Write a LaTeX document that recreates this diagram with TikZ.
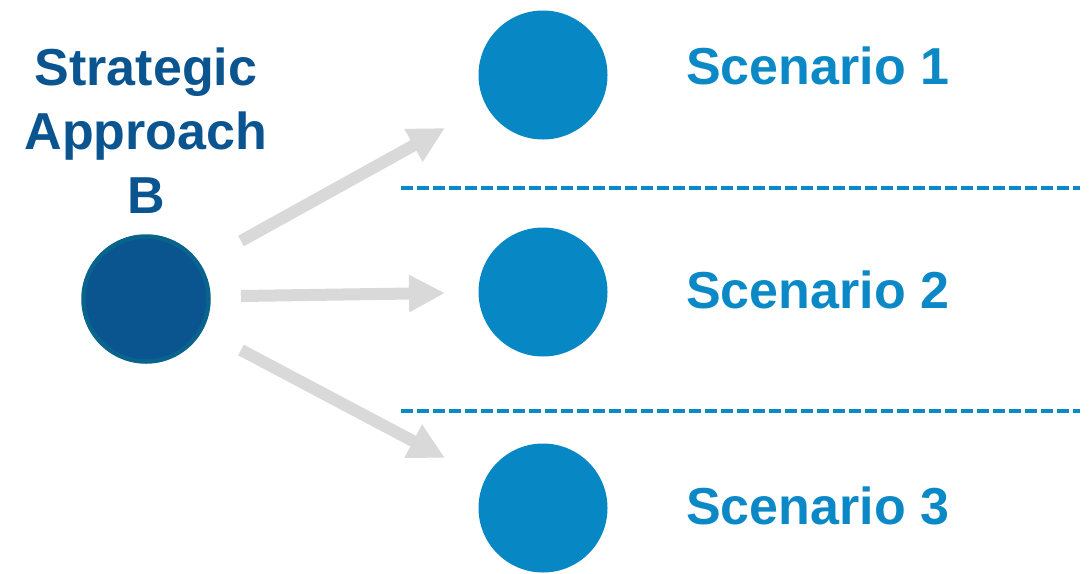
\documentclass[tikz,border=0pt]{standalone}
\usepackage{fontspec}
\setmainfont{Liberation Sans}
\usetikzlibrary{arrows.meta}
\definecolor{darkblue}{RGB}{10,84,143}
\definecolor{rimblue}{RGB}{8,100,140}
\definecolor{midblue}{RGB}{7,135,195}
\definecolor{textblue}{RGB}{10,137,198}
\definecolor{arrowgray}{RGB}{217,217,217}
\tikzset{
  dot/.style={circle, fill=midblue, minimum size=129pt, inner sep=0pt},
  bigdot/.style={circle, fill=darkblue, draw=rimblue, line width=4.5pt, minimum size=125pt, inner sep=0pt},
  scen/.style={anchor=base west, inner sep=0pt, text=textblue, font=\fontsize{52pt}{60pt}\selectfont\bfseries},
  title/.style={align=center, inner sep=0pt, text=darkblue, font=\fontsize{52pt}{64pt}\selectfont\bfseries},
  grayarrow/.style={draw=arrowgray, line width=12pt, -{Triangle[length=36pt,width=35pt]}},
  sep/.style={draw=textblue, line width=3.5pt, dash pattern=on 12pt off 4pt}
}
\begin{document}
\begin{tikzpicture}[x=1pt,y=-1pt]
\useasboundingbox (0,0) rectangle (1092,573);
\node[bigdot] (b) at (146,299) {};
\node[title, anchor=base] (t) at (146,213) {Strategic\\Approach\\B};
\node[dot] (s1) at (543,75) {};
\node[dot] (s2) at (543,292) {};
\node[dot] (s3) at (543,508) {};
\node[scen] (l1) at (686,84) {Scenario 1};
\node[scen] (l2) at (686,308) {Scenario 2};
\node[scen] (l3) at (686,524) {Scenario 3};
\coordinate (a1s) at (241,241);
\coordinate (a1e) at (445,128);
\coordinate (a2s) at (241,296);
\coordinate (a2e) at (445,293);
\coordinate (a3s) at (241,350);
\coordinate (a3e) at (445,458);
\draw[grayarrow] (a1s) -- (a1e);
\draw[grayarrow] (a2s) -- (a2e);
\draw[grayarrow] (a3s) -- (a3e);
\coordinate (d1s) at (401,188);
\coordinate (d1e) at (1080,188);
\coordinate (d2s) at (401,411);
\coordinate (d2e) at (1080,411);
\draw[sep] (d1s) -- (d1e);
\draw[sep] (d2s) -- (d2e);
\end{tikzpicture}
\end{document}
